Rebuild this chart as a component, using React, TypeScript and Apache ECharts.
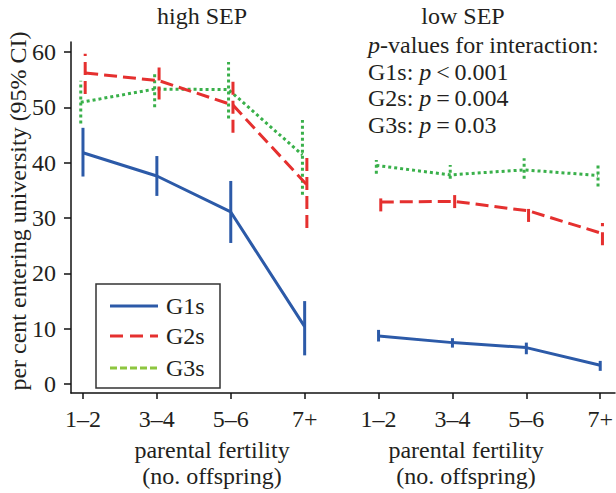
import React, { useEffect, useRef } from "react";
import * as echarts from "echarts";

const categories = ["1–2", "3–4", "5–6", "7+"];
const panelTitles = ["high SEP", "low SEP"];
const groups = ["G1s", "G2s", "G3s"];
const yTicks = [0, 10, 20, 30, 40, 50, 60];

// high SEP panel
const g1High = [41.8, 37.6, 31.1, 10.4];
const g1HighLo = [37.5, 34.0, 25.5, 5.2];
const g1HighHi = [46.3, 41.2, 36.7, 15.0];
const g2High = [56.2, 54.8, 50.4, 36.0];
const g2HighLo = [52.4, 51.4, 45.4, 28.2];
const g2HighHi = [59.7, 57.9, 55.6, 41.8];
const g3High = [50.9, 53.3, 53.2, 41.4];
const g3HighLo = [47.1, 50.0, 48.0, 34.2];
const g3HighHi = [54.8, 56.4, 58.2, 47.7];

// low SEP panel
const g1Low = [8.7, 7.5, 6.6, 3.4];
const g1LowLo = [7.7, 6.6, 5.4, 2.4];
const g1LowHi = [9.8, 8.3, 7.5, 4.2];
const g2Low = [32.9, 33.0, 31.3, 27.2];
const g2LowLo = [31.2, 31.8, 29.3, 25.1];
const g2LowHi = [34.2, 34.2, 32.4, 29.1];
const g3Low = [39.5, 37.8, 38.7, 37.7];
const g3LowLo = [38.0, 37.1, 37.1, 35.7];
const g3LowHi = [40.5, 39.6, 40.8, 39.6];

const pValueLines = [
  "{i|p}-values for interaction:",
  "G1s: {i|p}\u2009<\u20090.001",
  "G2s: {i|p}\u2009=\u20090.004",
  "G3s: {i|p}\u2009=\u20090.03",
];

const FONT = "Liberation Serif";
const TEXT = "#231f20";
const FS = 24;

const styles = [
  { color: "#2c5aa8", dash: undefined as number[] | undefined, offset: 0, legendColor: "#2c5aa8", legendDash: undefined as number[] | undefined },
  { color: "#e5302f", dash: [13, 6], offset: 0.03, legendColor: "#e5302f", legendDash: [13, 7] },
  { color: "#39b04a", dash: [3, 3], offset: -0.03, legendColor: "#8dc63f", legendDash: [7, 3] },
];

export default function App() {
  const ref = useRef<HTMLDivElement>(null);

  useEffect(() => {
    if (!ref.current) return;
    const chart = echarts.init(ref.current, undefined, { renderer: "svg" });

    const panels = [
      { means: [g1High, g2High, g3High], lo: [g1HighLo, g2HighLo, g3HighLo], hi: [g1HighHi, g2HighHi, g3HighHi] },
      { means: [g1Low, g2Low, g3Low], lo: [g1LowLo, g2LowLo, g3LowLo], hi: [g1LowHi, g2LowHi, g3LowHi] },
    ];

    const series: any[] = [];
    panels.forEach((p, pi) => {
      groups.forEach((g, gi) => {
        const st = styles[gi];
        const xs = categories.map((_, ci) => pi * categories.length + ci + st.offset);
        series.push({
          type: "line",
          name: g,
          data: p.means[gi].map((v, ci) => [xs[ci], v]),
          showSymbol: false,
          symbol: "none",
          lineStyle: { color: st.color, width: 3, type: st.dash ? st.dash : "solid" },
          itemStyle: { color: st.color },
          z: 3 + (2 - gi),
        });
        series.push({
          type: "custom",
          name: g + " CI",
          data: p.lo[gi].map((v, ci) => [xs[ci], v, p.hi[gi][ci]]),
          encode: { x: 0, y: [1, 2] },
          z: 3 + (2 - gi),
          renderItem: (params: any, api: any) => {
            const x = api.value(0);
            const a = api.coord([x, api.value(1)]);
            const b = api.coord([x, api.value(2)]);
            return {
              type: "line",
              shape: { x1: a[0], y1: a[1], x2: b[0], y2: b[1] },
              style: { stroke: st.color, lineWidth: 3, lineDash: st.dash || null, fill: null },
            };
          },
        });
      });
    });

    const tickPositions = [0, 1, 2, 3, 4, 5, 6, 7];

    const legendTop = 284;
    const legendRows = [306, 336, 368];

    const txt = (size: number, extra: any = {}) => ({
      fontSize: size,
      fontFamily: FONT,
      fill: TEXT,
      ...extra,
    });

    const graphic: any[] = [
      {
        type: "text",
        x: 18,
        y: 211,
        rotation: Math.PI / 2,
        style: txt(FS, { text: "per cent entering university (95% CI)", align: "center", verticalAlign: "middle" }),
      },
      {
        type: "rect",
        shape: { x: 96, y: legendTop, width: 124, height: 104 },
        style: { fill: "#fff", stroke: "#333", lineWidth: 1.5 },
        z: 10,
      },
      ...groups.flatMap((g, gi) => [
        {
          type: "line",
          shape: { x1: 110, y1: legendRows[gi], x2: 158, y2: legendRows[gi] },
          style: { stroke: styles[gi].legendColor, lineWidth: 3, lineDash: styles[gi].legendDash || null },
          z: 11,
        },
        {
          type: "text",
          x: 166,
          y: legendRows[gi],
          style: txt(FS, { text: g, verticalAlign: "middle", align: "left" }),
          z: 11,
        },
      ]),
      ...panelTitles.map((t, i) => ({
        type: "text",
        x: i === 0 ? 202 : 463,
        y: 16,
        style: txt(FS, { text: t, align: "center", verticalAlign: "middle" }),
      })),
      ...[0, 1].flatMap((i) => [
        {
          type: "text",
          x: i === 0 ? 212 : 466,
          y: 450,
          style: txt(FS, { text: "parental fertility", align: "center", verticalAlign: "middle" }),
        },
        {
          type: "text",
          x: i === 0 ? 212 : 466,
          y: 476,
          style: txt(FS, { text: "(no. offspring)", align: "center", verticalAlign: "middle" }),
        },
      ]),
      ...pValueLines.map((t, i) => ({
        type: "text",
        x: 368,
        y: [45, 72, 98, 125][i],
        style: txt(FS, {
          text: t,
          align: "left",
          verticalAlign: "middle",
          rich: { i: { fontStyle: "italic", fontSize: FS, fontFamily: FONT, fill: TEXT } },
        }),
      })),
    ];

    chart.setOption({
      animation: false,
      backgroundColor: "#fff",
      textStyle: { fontFamily: FONT },
      grid: { left: 71, right: 0, top: 42, bottom: 100, containLabel: false },
      xAxis: {
        type: "value",
        min: -0.162,
        max: 7.2,
        splitLine: { show: false },
        axisLine: { show: true, onZero: false, lineStyle: { color: "#111", width: 1.5 } },
        axisTick: { show: true, customValues: tickPositions, length: 6, lineStyle: { color: "#111", width: 1.5 } },
        axisLabel: {
          customValues: tickPositions,
          formatter: (v: number) => categories[Math.round(v) % categories.length],
          fontSize: FS,
          fontFamily: FONT,
          color: TEXT,
          margin: 14,
        },
      },
      yAxis: {
        type: "value",
        min: -1.6,
        max: 61.8,
        splitLine: { show: false },
        axisLine: { show: true, onZero: false, lineStyle: { color: "#111", width: 1.5 } },
        axisTick: { show: true, customValues: yTicks, length: 7, lineStyle: { color: "#111", width: 1.5 } },
        axisLabel: {
          customValues: yTicks,
          fontSize: FS,
          fontFamily: FONT,
          color: TEXT,
          margin: 15,
        },
      },
      graphic,
      series,
    });

    return () => chart.dispose();
  }, []);

  return (
    <div
      ref={ref}
      style={{ position: "fixed", left: 0, top: 0, width: 616, height: 493, background: "#fff" }}
    />
  );
}
